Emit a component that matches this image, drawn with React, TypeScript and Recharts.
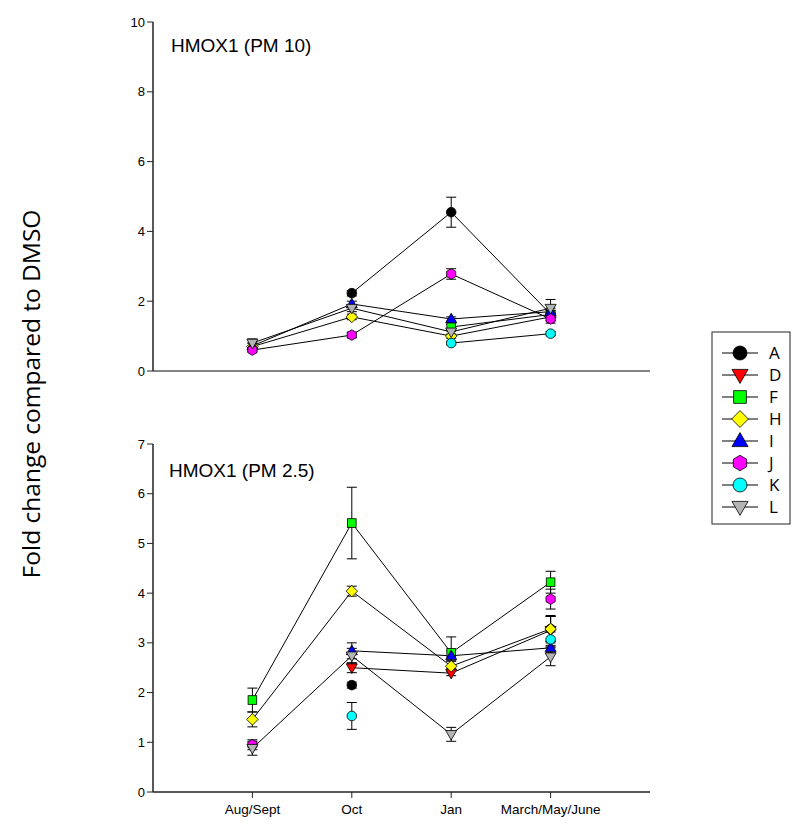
import React from "react";
import { LineChart, Line, XAxis, YAxis, ErrorBar } from "recharts";

const CATEGORIES = ["Aug/Sept", "Oct", "Jan", "March/May/June"];
const X_POS = [1, 2, 3, 4];

// HMOX1 (PM 10)
const pm10A = [null, 2.23, 4.55, 1.63];
const pm10AErr = [null, 0.08, 0.43, 0.1];
const pm10D = [null, null, null, null];
const pm10DErr = [null, null, null, null];
const pm10F = [null, null, 1.26, 1.62];
const pm10FErr = [null, null, 0.08, 0.1];
const pm10H = [0.7, 1.55, 1.0, 1.55];
const pm10HErr = [0.1, 0.08, 0.06, 0.1];
const pm10I = [0.72, 1.92, 1.49, 1.7];
const pm10IErr = [0.08, 0.08, 0.06, 0.1];
const pm10J = [0.6, 1.03, 2.78, 1.49];
const pm10JErr = [0.05, 0.08, 0.15, 0.12];
const pm10K = [null, null, 0.8, 1.07];
const pm10KErr = [null, null, 0.05, 0.06];
const pm10L = [0.8, 1.8, 1.12, 1.8];
const pm10LErr = [0.12, 0.1, 0.1, 0.25];

// HMOX1 (PM 2.5)
const pm25A = [null, 2.15, null, 3.28];
const pm25AErr = [null, 0.06, null, 0.25];
const pm25D = [null, 2.5, 2.39, 3.25];
const pm25DErr = [null, 0.1, 0.05, 0.3];
const pm25F = [1.85, 5.41, 2.8, 4.22];
const pm25FErr = [0.24, 0.72, 0.32, 0.22];
const pm25H = [1.46, 4.04, 2.53, 3.28];
const pm25HErr = [0.15, 0.1, 0.1, 0.25];
const pm25I = [null, 2.84, 2.74, 2.9];
const pm25IErr = [null, 0.16, 0.1, 0.1];
const pm25J = [0.95, null, null, 3.88];
const pm25JErr = [0.1, null, null, 0.2];
const pm25K = [null, 1.53, null, 3.07];
const pm25KErr = [null, 0.27, null, 0.15];
const pm25L = [0.88, 2.74, 1.16, 2.72];
const pm25LErr = [0.14, 0.15, 0.14, 0.18];

const SERIES = [
  { key: "A", fill: "#000000", shape: "circle" },
  { key: "D", fill: "#ff0000", shape: "triDown" },
  { key: "F", fill: "#00ff00", shape: "square" },
  { key: "H", fill: "#ffff00", shape: "diamond" },
  { key: "I", fill: "#0000ff", shape: "triUp" },
  { key: "J", fill: "#ff00ff", shape: "hexagon" },
  { key: "K", fill: "#00ffff", shape: "circle" },
  { key: "L", fill: "#b4b4b4", shape: "triDown" },
];

const pm10Values: Record<string, (number | null)[][]> = {
  A: [pm10A, pm10AErr], D: [pm10D, pm10DErr], F: [pm10F, pm10FErr], H: [pm10H, pm10HErr],
  I: [pm10I, pm10IErr], J: [pm10J, pm10JErr], K: [pm10K, pm10KErr], L: [pm10L, pm10LErr],
};
const pm25Values: Record<string, (number | null)[][]> = {
  A: [pm25A, pm25AErr], D: [pm25D, pm25DErr], F: [pm25F, pm25FErr], H: [pm25H, pm25HErr],
  I: [pm25I, pm25IErr], J: [pm25J, pm25JErr], K: [pm25K, pm25KErr], L: [pm25L, pm25LErr],
};

function buildRows(values: Record<string, (number | null)[][]>) {
  return X_POS.map((x, i) => {
    const row: any = { x };
    SERIES.forEach((s) => {
      row[s.key] = values[s.key][0][i];
      row[s.key + "_err"] = values[s.key][1][i];
    });
    return row;
  });
}

const pm10Data = buildRows(pm10Values);
const pm25Data = buildRows(pm25Values);

function Marker({ shape, cx, cy, s, fill }: any) {
  const common = { fill, stroke: "#000", strokeWidth: 0.8 };
  switch (shape) {
    case "circle":
      return <circle cx={cx} cy={cy} r={s} {...common} />;
    case "square":
      return <rect x={cx - s * 0.9} y={cy - s * 0.9} width={s * 1.8} height={s * 1.8} {...common} />;
    case "diamond":
      return <polygon points={`${cx},${cy - s * 1.2} ${cx + s * 1.2},${cy} ${cx},${cy + s * 1.2} ${cx - s * 1.2},${cy}`} {...common} />;
    case "triUp":
      return <polygon points={`${cx},${cy - s * 1.2} ${cx + s * 1.15},${cy + s * 0.8} ${cx - s * 1.15},${cy + s * 0.8}`} {...common} />;
    case "triDown":
      return <polygon points={`${cx},${cy + s * 1.2} ${cx + s * 1.15},${cy - s * 0.8} ${cx - s * 1.15},${cy - s * 0.8}`} {...common} />;
    case "hexagon": {
      const pts = [0, 1, 2, 3, 4, 5]
        .map((k) => {
          const a = (Math.PI / 3) * k - Math.PI / 2;
          return `${cx + s * 1.1 * Math.cos(a)},${cy + s * 1.1 * Math.sin(a)}`;
        })
        .join(" ");
      return <polygon points={pts} {...common} />;
    }
    default:
      return null;
  }
}

const tickFont = { fontFamily: "Liberation Sans, Arial, sans-serif", fontSize: 13, fill: "#000" };

function Panel({ data, max, ticks, showX, height, marginTop, xHeight }: any) {
  return (
    <LineChart
      width={800}
      height={height}
      data={data}
      margin={{ top: marginTop, right: 150, bottom: 0, left: 0 }}
    >
      <XAxis
        dataKey="x"
        type="number"
        domain={[0, 5]}
        ticks={[1, 2, 3, 4]}
        tickFormatter={(v: number) => CATEGORIES[v - 1]}
        height={xHeight}
        tick={showX ? { ...tickFont, fontSize: 13.5 } : false}
        tickLine={showX ? { stroke: "#222" } : false}
        tickSize={6}
        tickMargin={6}
        axisLine={{ stroke: showX ? "#222" : "#5a5a5a", strokeWidth: 1.5 }}
      />
      <XAxis xAxisId="top" orientation="top" type="number" domain={[0, 5]} height={0} tick={false} tickLine={false} axisLine={{ stroke: "#5a5a5a", strokeWidth: 1.5 }} />
      <YAxis
        type="number"
        domain={[0, max]}
        ticks={ticks}
        width={153}
        tick={tickFont}
        tickSize={6}
        tickLine={{ stroke: "#222" }}
        axisLine={{ stroke: "#222", strokeWidth: 1.5 }}
      />
      <YAxis yAxisId="right" orientation="right" width={0} tick={false} tickLine={false} axisLine={{ stroke: "#333", strokeWidth: 1.5 }} />
      {SERIES.map((s) => (
        <Line
          key={s.key}
          dataKey={s.key}
          stroke="#000"
          strokeWidth={1}
          connectNulls={false}
          isAnimationActive={false}
          dot={(p: any) =>
            p.payload == null || p.payload[s.key] == null || p.cy == null ? (
              <g key={`${s.key}-${p.index}`} />
            ) : (
              <g key={`${s.key}-${p.index}`}>
                <Marker shape={s.shape} cx={p.cx} cy={p.cy} s={4.8} fill={s.fill} />
              </g>
            )
          }
          activeDot={false}
        >
          <ErrorBar dataKey={s.key + "_err"} direction="y" width={5} stroke="#000" strokeWidth={1} isAnimationActive={false} />
        </Line>
      ))}
    </LineChart>
  );
}

function LegendBox() {
  return (
    <svg width={80} height={194} style={{ position: "absolute", left: 711, top: 331 }}>
      <rect x={1} y={1} width={78} height={192} fill="#fff" stroke="#222" strokeWidth={1} />
      {SERIES.map((s, i) => {
        const y = 22 + i * 22;
        return (
          <g key={s.key}>
            <line x1={11} x2={47} y1={y} y2={y} stroke="#000" strokeWidth={1} />
            <Marker shape={s.shape} cx={29} cy={y} s={7} fill={s.fill} />
            <text x={58} y={y + 6} fontFamily="Open Sans, sans-serif" fontSize={17} fill="#000">
              {s.key}
            </text>
          </g>
        );
      })}
    </svg>
  );
}

const titleStyle: React.CSSProperties = {
  position: "absolute",
  fontFamily: "Liberation Sans, Arial, sans-serif",
  fontSize: 19,
  lineHeight: "19px",
  color: "#000",
  whiteSpace: "nowrap",
};

export default function App() {
  return (
    <div style={{ position: "absolute", left: 0, top: 0, width: 800, height: 827, background: "#fff" }}>
      <div style={{ position: "absolute", left: 0, top: 0 }}>
        <Panel data={pm10Data} max={10} ticks={[0, 2, 4, 6, 8, 10]} showX={false} height={400} marginTop={22} xHeight={29} />
      </div>
      <div style={{ position: "absolute", left: 0, top: 420 }}>
        <Panel data={pm25Data} max={7} ticks={[0, 1, 2, 3, 4, 5, 6, 7]} showX={true} height={407} marginTop={24} xHeight={35} />
      </div>
      <div style={{ ...titleStyle, left: 171, top: 36 }}>HMOX1 (PM 10)</div>
      <div style={{ ...titleStyle, left: 169, top: 461 }}>HMOX1 (PM 2.5)</div>
      <div
        style={{
          position: "absolute",
          left: 30,
          top: 394,
          transform: "translate(-50%, -50%) rotate(-90deg)",
          fontFamily: "Open Sans, sans-serif",
          fontSize: 24.5,
          whiteSpace: "nowrap",
          color: "#000",
        }}
      >
        Fold change compared to DMSO
      </div>
      <LegendBox />
    </div>
  );
}
